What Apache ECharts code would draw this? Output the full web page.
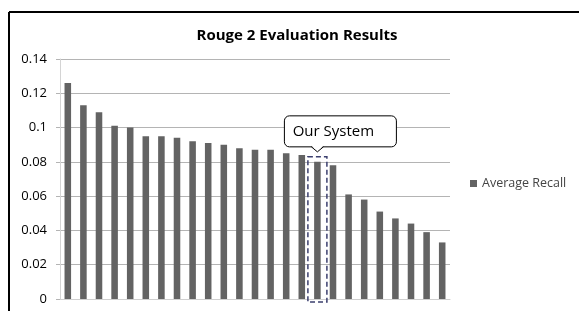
<!DOCTYPE html>
<html>
<head>
<meta charset="utf-8">
<script src="https://cdn.jsdelivr.net/npm/echarts@6/dist/echarts.min.js"></script>
<style>
html,body{margin:0;padding:0;background:#fff;}
#main{width:579px;height:311px;}
</style>
</head>
<body>
<div id="main"></div>
<script>
// systems ranked by ROUGE-2 average recall
var systems = ['S1','S2','S3','S4','S5','S6','S7','S8','S9','S10','S11','S12','S13',
               'S14','S15','S16','Ours','S18','S19','S20','S21','S22','S23','S24','S25'];
var recall = [0.126, 0.113, 0.109, 0.101, 0.100, 0.095, 0.095, 0.094, 0.092, 0.091, 0.090,
              0.088, 0.087, 0.087, 0.085, 0.084, 0.080, 0.078, 0.061, 0.058, 0.051, 0.047,
              0.044, 0.039, 0.033];
var yMin = 0, yMax = 0.14, yStep = 0.02;
var ourIndex = 16;

var chart = echarts.init(document.getElementById('main'));

var option = {
    backgroundColor: '#fff',
    animation: false,
    title: {
        text: 'Rouge 2 Evaluation Results',
        left: 292,
        top: 23,
        textAlign: 'center',
        textStyle: {
            fontFamily: 'Open Sans',
            fontWeight: 'bold',
            fontSize: 15,
            color: '#000'
        }
    },
    legend: {
        data: ['Average Recall'],
        left: 465,
        top: 172,
        icon: 'rect',
        itemWidth: 7,
        itemHeight: 7,
        itemGap: 6,
        textStyle: {
            fontFamily: 'Open Sans',
            fontSize: 12.5,
            color: '#444'
        }
    },
    grid: {
        left: 60,
        right: 129,
        top: 59,
        bottom: 12
    },
    xAxis: {
        type: 'category',
        data: systems,
        axisLabel: { show: false },
        axisTick: { show: false },
        axisLine: { lineStyle: { color: '#cfcfcf', width: 1 } }
    },
    yAxis: {
        type: 'value',
        min: yMin,
        max: yMax,
        interval: yStep,
        axisLine: { show: true, lineStyle: { color: '#d4d4d4' } },
        axisTick: { show: true, length: 4, lineStyle: { color: '#b4b4b4' } },
        axisLabel: {
            margin: 13,
            fontFamily: 'Open Sans',
            fontSize: 13,
            color: '#000'
        },
        splitLine: { lineStyle: { color: '#b4b4b4' } }
    },
    series: [{
        name: 'Average Recall',
        type: 'bar',
        data: recall,
        barWidth: '42%',
        itemStyle: { color: '#636363' }
    }]
};
chart.setOption(option);

// frame, highlight box and callout placed from the axes
var top0 = chart.convertToPixel({ gridIndex: 0 }, [ourIndex, recall[ourIndex]]);
var base0 = chart.convertToPixel({ gridIndex: 0 }, [ourIndex, 0]);
var cx = top0[0];
var boxTop = top0[1] - 5;
var tipY = top0[1] - 10;
var calloutBottom = tipY - 5;

chart.setOption({
    graphic: [
        { type: 'line', shape: { x1: 9, y1: 12, x2: 579, y2: 12 }, style: { stroke: '#000', lineWidth: 2 } },
        { type: 'line', shape: { x1: 9, y1: 12, x2: 9, y2: 311 }, style: { stroke: '#000', lineWidth: 2 } },
        {
            type: 'rect',
            shape: { x: cx - 9.5, y: boxTop, width: 19, height: base0[1] + 3 - boxTop },
            style: { fill: 'none', stroke: '#3b3f6e', lineWidth: 1.5, lineDash: [5, 3] },
            z: 100
        },
        {
            type: 'rect',
            shape: { x: cx - 33, y: calloutBottom - 31, width: 112, height: 31, r: 5 },
            style: { fill: '#fff', stroke: '#000', lineWidth: 1 },
            z: 100
        },
        {
            type: 'polygon',
            shape: { points: [[cx - 6, calloutBottom - 1], [cx, tipY - 0.5], [cx + 6, calloutBottom - 1]] },
            style: { fill: '#fff', stroke: 'none' },
            z: 101
        },
        {
            type: 'polyline',
            shape: { points: [[cx - 6, calloutBottom], [cx, tipY], [cx + 6, calloutBottom]] },
            style: { stroke: '#000', lineWidth: 1, fill: 'none' },
            z: 102
        },
        {
            type: 'text',
            x: cx + 16,
            y: calloutBottom - 15.5,
            style: {
                text: 'Our System',
                fontFamily: 'Open Sans',
                fontSize: 15,
                fill: '#000',
                align: 'center',
                verticalAlign: 'middle'
            },
            z: 103
        }
    ]
});
</script>
</body>
</html>
